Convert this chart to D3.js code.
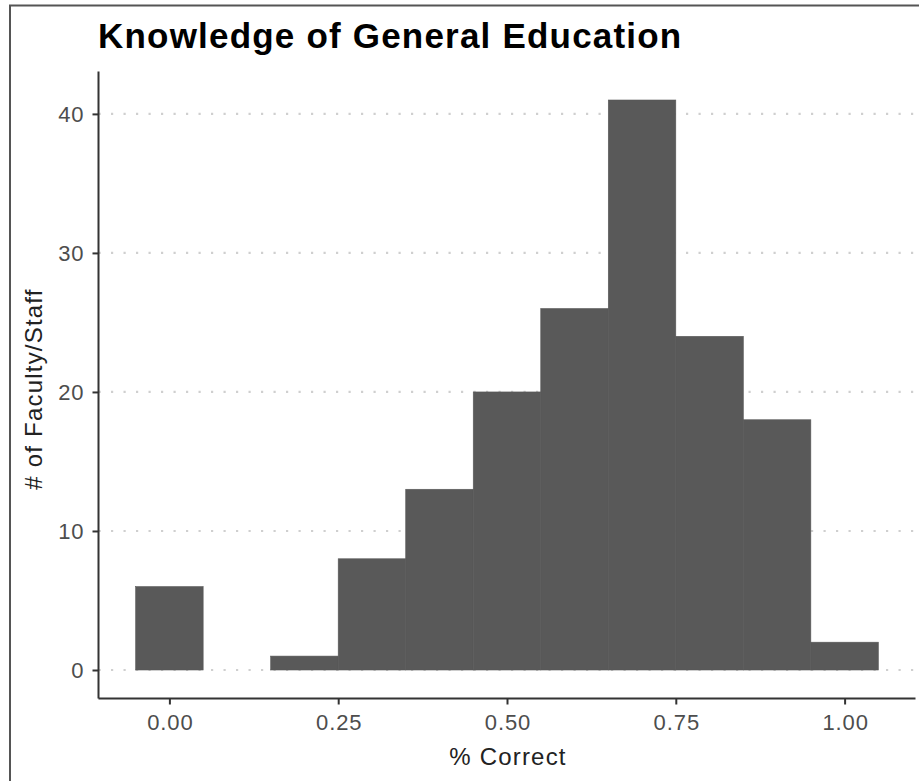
<!DOCTYPE html>
<html>
<head>
<meta charset="utf-8">
<script src="https://cdn.jsdelivr.net/npm/d3@7"></script>
<style>
html,body{margin:0;padding:0;background:#fff;}
svg{display:block;font-family:"Liberation Sans",Arial,Helvetica,sans-serif;}
</style>
</head>
<body>
<svg id="chart" width="919" height="781"></svg>
<script>
const binCenters = [0.0, 0.1, 0.2, 0.3, 0.4, 0.5, 0.6, 0.7, 0.8, 0.9, 1.0];
const counts     = [6,   0,   1,   8,   13,  20,  26,  41,  24,  18,  2];
const binWidth = 0.1;
const xTicks = [0, 0.25, 0.5, 0.75, 1.0];
const yTicks = [0, 10, 20, 30, 40];
const title = "Knowledge of General Education";
const xTitle = "% Correct";
const yTitle = "# of Faculty/Staff";

const svg = d3.select("#chart");
const panel = {left: 98.5, right: 915.5, top: 71.5, bottom: 698.5};

// frame
svg.append("path")
  .attr("d", `M10,781 V5.5 H919`)
  .attr("fill", "none").attr("stroke", "#555").attr("stroke-width", 2);

const xMin = d3.min(binCenters) - binWidth/2, xMax = d3.max(binCenters) + binWidth/2;
const xPad = (xMax - xMin) * 0.05;
const x = d3.scaleLinear().domain([xMin - xPad, xMax + xPad]).range([panel.left, panel.right]);
const yMaxV = d3.max(counts);
const yPad = yMaxV * 0.05;
const y = d3.scaleLinear().domain([-yPad, yMaxV + yPad]).range([panel.bottom, panel.top]);

// grid
svg.append("g").selectAll("line").data(yTicks).join("line")
  .attr("x1", panel.left).attr("x2", panel.right)
  .attr("y1", d => y(d)).attr("y2", d => y(d))
  .attr("stroke", "#cfcfcf").attr("stroke-width", 2.2)
  .attr("stroke-dasharray", "2.2,10.3");

// bars
svg.append("g").selectAll("rect").data(binCenters.map((c,i)=>({c, v: counts[i]})).filter(d=>d.v>0)).join("rect")
  .attr("x", d => x(d.c - binWidth/2))
  .attr("width", d => x(d.c + binWidth/2) - x(d.c - binWidth/2))
  .attr("y", d => y(d.v))
  .attr("height", d => y(0) - y(d.v))
  .attr("fill", "#595959").attr("stroke", "#595959").attr("stroke-width", 0.6);

// axes
const xAxis = d3.axisBottom(x).tickValues(xTicks).tickFormat(d3.format(".2f")).tickSize(6).tickPadding(10);
const yAxis = d3.axisLeft(y).tickValues(yTicks).tickFormat(d3.format("d")).tickSize(6).tickPadding(8);

const gx = svg.append("g").attr("transform", `translate(0,${panel.bottom})`).call(xAxis);
const gy = svg.append("g").attr("transform", `translate(${panel.left},0)`).call(yAxis);
[gx, gy].forEach(g => {
  g.select(".domain").remove();
  g.selectAll(".tick line").attr("stroke", "#333").attr("stroke-width", 2);
  g.selectAll(".tick text").attr("fill", "#4d4d4d").style("font-size", "22px")
    .style("letter-spacing", "0.9px")
    .style("font-family", "'Liberation Sans', Arial, sans-serif");
});
gx.selectAll(".tick text").attr("dx", "0.5px");
gy.selectAll(".tick text").attr("dy", "0.36em");
svg.append("line").attr("x1", panel.left).attr("x2", panel.right)
  .attr("y1", panel.bottom).attr("y2", panel.bottom).attr("stroke", "#333").attr("stroke-width", 2);
svg.append("line").attr("x1", panel.left).attr("x2", panel.left)
  .attr("y1", panel.top).attr("y2", panel.bottom).attr("stroke", "#333").attr("stroke-width", 2);

// titles
svg.append("text").attr("x", (panel.left + panel.right)/2 + 1).attr("y", 765)
  .attr("text-anchor", "middle").style("font-size", "24px").style("letter-spacing", "1.2px")
  .attr("fill", "#222").text(xTitle);
svg.append("text").attr("transform", `translate(42,${(panel.top+panel.bottom)/2 + 4}) rotate(-90)`)
  .attr("text-anchor", "middle").style("font-size", "24px").style("letter-spacing", "1.2px")
  .attr("fill", "#222").text(yTitle);
svg.append("text").attr("x", 98).attr("y", 48)
  .style("font-size", "35px").style("font-weight", "bold").style("letter-spacing", "1.2px")
  .attr("fill", "#000").text(title);
</script>
</body>
</html>
